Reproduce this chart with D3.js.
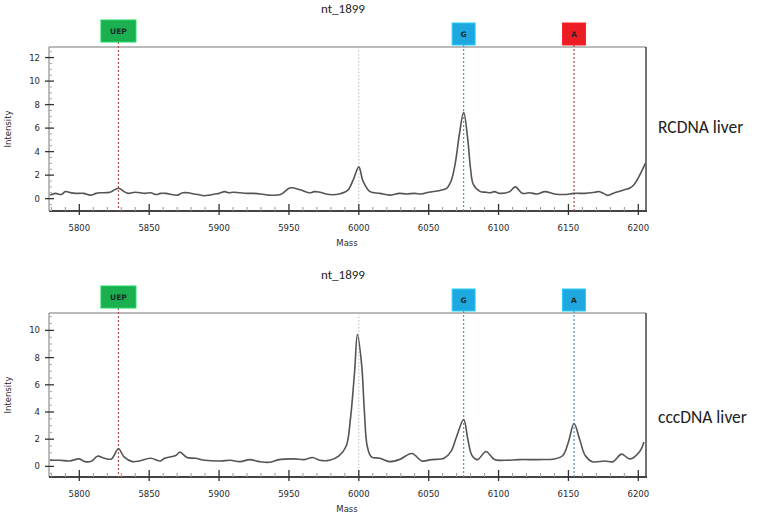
<!DOCTYPE html>
<html>
<head>
<meta charset="utf-8">
<script src="https://cdn.jsdelivr.net/npm/d3@7"></script>
<style>
  body { margin: 0; background: #fff; }
  svg { display: block; }
</style>
</head>
<body>
<svg id="chart" width="760" height="515"></svg>
<script>
// x ticks (mass)
const massTicks = [5800, 5850, 5900, 5950, 6000, 6050, 6100, 6150, 6200];

// top trace: RCDNA liver
const rcMass = [5779, 5783, 5787, 5790, 5794, 5797, 5803, 5808, 5812, 5815, 5822, 5828, 5832, 5835, 5840, 5847, 5851, 5855, 5858, 5862, 5866, 5870, 5874, 5878, 5882, 5885, 5889, 5893, 5897, 5900, 5904, 5907, 5910, 5915, 5920, 5925, 5930, 5936, 5944, 5951, 5958, 5965, 5968, 5972, 5979, 5986, 5992, 5996, 6000, 6003, 6008, 6015, 6022, 6029, 6034, 6040, 6045, 6050, 6058, 6063, 6066, 6069, 6072, 6075, 6078, 6080, 6082, 6087, 6091, 6094, 6097, 6101, 6108, 6112, 6117, 6122, 6128, 6133, 6140, 6147, 6154, 6162, 6169, 6172, 6175, 6178, 6183, 6190, 6194, 6197, 6201, 6205];
const rcIntensity = [0.3, 0.45, 0.35, 0.6, 0.5, 0.45, 0.45, 0.3, 0.45, 0.5, 0.55, 0.88, 0.6, 0.45, 0.55, 0.45, 0.5, 0.35, 0.45, 0.45, 0.35, 0.3, 0.5, 0.5, 0.4, 0.35, 0.25, 0.3, 0.4, 0.45, 0.6, 0.5, 0.55, 0.5, 0.45, 0.45, 0.4, 0.3, 0.35, 0.92, 0.75, 0.5, 0.6, 0.55, 0.35, 0.4, 0.7, 1.6, 2.7, 1.5, 0.6, 0.45, 0.3, 0.45, 0.4, 0.45, 0.4, 0.55, 0.7, 0.9, 1.5, 3.0, 5.5, 7.35, 5.0, 2.5, 1.2, 0.6, 0.55, 0.5, 0.6, 0.45, 0.6, 1.0, 0.45, 0.5, 0.4, 0.6, 0.4, 0.35, 0.45, 0.45, 0.55, 0.6, 0.45, 0.28, 0.5, 0.75, 0.9, 1.2, 2.0, 3.0];

// bottom trace: cccDNA liver
const cccMass = [5779, 5786, 5793, 5800, 5804, 5809, 5813, 5818, 5823, 5828, 5832, 5838, 5843, 5851, 5858, 5861, 5869, 5872, 5877, 5883, 5890, 5901, 5908, 5915, 5922, 5929, 5936, 5943, 5954, 5961, 5967, 5972, 5979, 5986, 5991, 5994, 5997, 5999, 6002, 6004, 6006, 6009, 6015, 6022, 6029, 6038, 6045, 6052, 6061, 6066, 6070, 6075, 6078, 6081, 6085, 6091, 6097, 6104, 6115, 6129, 6140, 6146, 6150, 6154, 6158, 6162, 6167, 6176, 6182, 6188, 6194, 6201, 6204];
const cccIntensity = [0.45, 0.45, 0.4, 0.55, 0.35, 0.4, 0.75, 0.6, 0.55, 1.3, 0.7, 0.35, 0.4, 0.6, 0.4, 0.6, 0.8, 1.05, 0.65, 0.6, 0.45, 0.4, 0.45, 0.35, 0.5, 0.35, 0.3, 0.5, 0.55, 0.5, 0.65, 0.45, 0.45, 0.8, 1.5, 3.5, 7.0, 9.7, 7.5, 4.0, 1.5, 0.7, 0.6, 0.35, 0.5, 0.95, 0.4, 0.5, 0.6, 1.1, 2.2, 3.45, 2.0, 0.8, 0.5, 1.1, 0.5, 0.45, 0.5, 0.5, 0.55, 0.8, 1.8, 3.15, 2.0, 0.8, 0.35, 0.4, 0.35, 0.9, 0.55, 1.1, 1.8];

// extension markers
const markerNames = ['UEP', 'G', 'A'];
const markerMass = [5828, 6075, 6154];
const rcMarkerColors = ['#1aaf4f', '#1fa8e0', '#ec1c24'];
const cccMarkerColors = ['#1aaf4f', '#1fa8e0', '#1fa8e0'];
const rcLineColors = ['#b0504a', '#4a98b0', '#b0504a'];
const cccLineColors = ['#b0504a', '#4a98b0', '#4a98b0'];

const svg = d3.select('#chart');
const font = 'Verdana, "DejaVu Sans", sans-serif';

function drawPanel(opts) {
    const { top, bottom, yDomain, yTicks, mass, intensity, mColors, lColors, sample } = opts;
    const left = 49, right = 646;

    const x = d3.scaleLinear().domain([5778.3, 6205.5]).range([left, right]);
    const y = d3.scaleLinear().domain(yDomain).range([bottom, top]);

    const g = svg.append('g');

    // title
    g.append('text')
        .attr('x', 343).attr('y', top - 34)
        .attr('text-anchor', 'middle')
        .attr('font-family', 'Calibri, "Open Sans", sans-serif')
        .attr('font-size', '13px').attr('fill', '#222')
        .text('nt_1899');

    // frame
    g.append('line').attr('x1', left).attr('x2', right).attr('y1', top).attr('y2', top)
        .attr('stroke', '#777').attr('stroke-width', 1);
    g.append('line').attr('x1', left).attr('x2', left).attr('y1', top).attr('y2', bottom)
        .attr('stroke', '#777').attr('stroke-width', 1);
    g.append('line').attr('x1', right).attr('x2', right).attr('y1', top).attr('y2', bottom + 1)
        .attr('stroke', '#444').attr('stroke-width', 1.5);
    g.append('line').attr('x1', left).attr('x2', right + 1).attr('y1', bottom).attr('y2', bottom)
        .attr('stroke', '#444').attr('stroke-width', 2);

    // 6000 guide line
    g.append('line')
        .attr('x1', x(6000)).attr('x2', x(6000)).attr('y1', top).attr('y2', bottom)
        .attr('stroke', '#bbb').attr('stroke-width', 1).attr('stroke-dasharray', '1.5,2');

    // minor x ticks
    const minorX = d3.range(5780, 6206, 10).filter(v => v % 50 !== 0);
    g.selectAll('.mx').data(minorX).join('line')
        .attr('x1', d => x(d)).attr('x2', d => x(d))
        .attr('y1', bottom - 4).attr('y2', bottom)
        .attr('stroke', '#999').attr('stroke-width', 1);

    // major x ticks and labels
    g.selectAll('.tx').data(massTicks).join('line')
        .attr('x1', d => x(d)).attr('x2', d => x(d))
        .attr('y1', bottom - 7).attr('y2', bottom + 4)
        .attr('stroke', '#333').attr('stroke-width', 1.3);
    g.selectAll('.lx').data(massTicks).join('text')
        .attr('x', d => x(d)).attr('y', bottom + 20)
        .attr('text-anchor', 'middle')
        .attr('font-family', font).attr('font-size', '8.5px').attr('fill', '#2a2a2a')
        .text(d => d);

    // minor y ticks
    const minorY = d3.range(Math.ceil(yDomain[0] * 2) / 2, yDomain[1], 0.5).filter(v => v % 2 !== 0);
    g.selectAll('.my').data(minorY).join('line')
        .attr('x1', left).attr('x2', left + 3)
        .attr('y1', d => y(d)).attr('y2', d => y(d))
        .attr('stroke', '#aaa').attr('stroke-width', 1);

    // major y ticks and labels
    g.selectAll('.ty').data(yTicks).join('line')
        .attr('x1', left - 4).attr('x2', left + 5)
        .attr('y1', d => y(d)).attr('y2', d => y(d))
        .attr('stroke', '#333').attr('stroke-width', 1.3);
    g.selectAll('.ly').data(yTicks).join('text')
        .attr('x', left - 9).attr('y', d => y(d)).attr('dy', '0.35em')
        .attr('text-anchor', 'end')
        .attr('font-family', font).attr('font-size', '8.5px').attr('fill', '#2a2a2a')
        .text(d => d);

    // axis titles
    g.append('text')
        .attr('transform', `translate(11, ${(top + bottom) / 2}) rotate(-90)`)
        .attr('text-anchor', 'middle')
        .attr('font-family', font).attr('font-size', '8.5px').attr('fill', '#2a2a2a')
        .text('Intensity');
    g.append('text')
        .attr('x', 347).attr('y', bottom + 35)
        .attr('text-anchor', 'middle')
        .attr('font-family', font).attr('font-size', '8.5px').attr('fill', '#2a2a2a')
        .text('Mass');

    // marker lines and boxes
    markerNames.forEach((name, i) => {
        const mx = x(markerMass[i]);
        const w = name.length > 1 ? 35 : 23;
        const boxBottom = name.length > 1 ? top - 5 : top - 2;
        const h = 22;
        g.append('line')
            .attr('x1', mx).attr('x2', mx).attr('y1', boxBottom).attr('y2', bottom)
            .attr('stroke', lColors[i]).attr('stroke-width', 1.2).attr('stroke-dasharray', '2,2');
        g.append('rect')
            .attr('x', mx - w / 2).attr('y', boxBottom - h)
            .attr('width', w).attr('height', h)
            .attr('fill', mColors[i]).attr('stroke', d3.color(mColors[i]).brighter(0.6)).attr('stroke-width', 1);
        g.append('text')
            .attr('x', mx).attr('y', boxBottom - h / 2).attr('dy', '0.35em')
            .attr('text-anchor', 'middle')
            .attr('font-family', font).attr('font-size', '7.5px').attr('font-weight', 'bold')
            .attr('fill', '#1a2a2a')
            .text(name);
    });

    // trace
    const pts = mass.map((m, i) => [m, intensity[i]]);
    const line = d3.line()
        .x(d => x(d[0])).y(d => y(d[1]))
        .curve(d3.curveCatmullRom.alpha(0.5));
    g.append('path')
        .datum(pts)
        .attr('d', line)
        .attr('fill', 'none')
        .attr('stroke', '#555')
        .attr('stroke-width', 1.6)
        .attr('stroke-linejoin', 'round');

    // sample label
    g.append('text')
        .attr('x', 658).attr('y', opts.labelY).attr('dy', '0.35em')
        .attr('font-family', 'Calibri, "Open Sans", sans-serif')
        .attr('font-size', '17.5px').attr('fill', '#222')
        .text(sample);
}

drawPanel({
    top: 47, bottom: 211, yDomain: [-1.05, 12.9], yTicks: [0, 2, 4, 6, 8, 10, 12],
    mass: rcMass, intensity: rcIntensity,
    mColors: rcMarkerColors, lColors: rcLineColors,
    sample: 'RCDNA liver', labelY: 127
});

drawPanel({
    top: 313, bottom: 477, yDomain: [-0.78, 11.28], yTicks: [0, 2, 4, 6, 8, 10],
    mass: cccMass, intensity: cccIntensity,
    mColors: cccMarkerColors, lColors: cccLineColors,
    sample: 'cccDNA liver', labelY: 417
});
</script>
</body>
</html>
